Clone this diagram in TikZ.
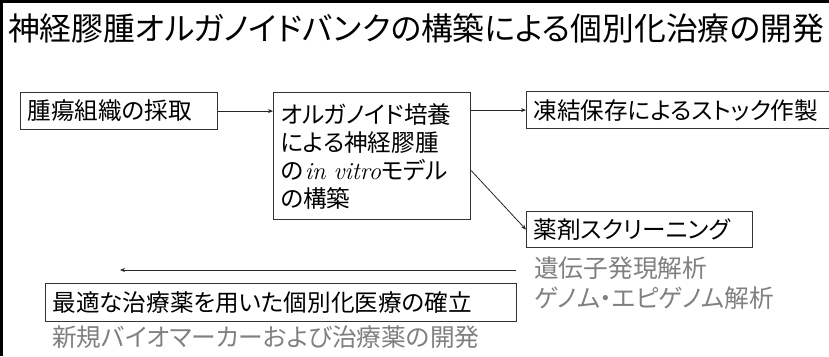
\documentclass[tikz,border=0pt]{standalone}
\usepackage{fontspec}
\newfontfamily\jp[RawFeature=+palt]{Noto Sans CJK JP}
\usetikzlibrary{arrows.meta}
\begin{document}
\begin{tikzpicture}[x=1pt,y=-1pt,
  box/.style={draw=black!80, line width=1.2pt, anchor=north west, inner xsep=7pt, inner ysep=0pt, align=left, font=\jp\fontsize{23.6}{28}\selectfont},
  note/.style={anchor=west, inner sep=0pt, text=black!50, font=\jp\fontsize{24.7}{28}\selectfont},
  arr/.style={-{Stealth[length=5pt,width=4pt]}, line width=0.8pt, draw=black!85}]
\useasboundingbox (0,0) rectangle (829,356);
\clip (0,0) rectangle (829,356);
\fill[white] (0,0) rectangle (829,356);
\draw[line width=3pt] (1.5,356) -- (1.5,1.5) -- (829,1.5);
\node[anchor=west, inner sep=0pt, font=\jp\fontsize{31.8}{32}\selectfont] (title) at (8,28) {神経膠腫オルガノイドバンクの構築による個別化治療の開発};
\node[box, text width=183pt, minimum height=37pt] (b1) at (20,92) {腫瘍組織の採取};
\node[box, text width=183pt, minimum height=127pt] (b2) at (273,92) {オルガノイド培養\\による神経膠腫\\の\hspace{1.5pt}{\rmfamily\itshape\fontsize{24.5}{28}\selectfont in vitro}モデル\\の構築};
\node[box, text width=330pt, minimum height=37pt] (b3) at (526,91) {凍結保存によるストック作製};
\node[box, text width=212pt, minimum height=36pt] (b4) at (526,211) {薬剤スクリーニング};
\node[box, text width=457pt, minimum height=38pt] (b5) at (45,283) {最適な治療薬を用いた個別化医療の確立};
\node[note] (n1) at (534,268) {遺伝子発現解析};
\node[note] (n2) at (534,298) {ゲノム・エピゲノム解析};
\node[note] (n3) at (52,337) {新規バイオマーカーおよび治療薬の開発};
\coordinate (fbs) at (516,270);
\coordinate (fbe) at (120,270);
\draw[arr] (b1.east) -- (b2.west |- b1.east);
\draw[arr] (b2.east |- b3.west) -- (b3.west);
\draw[arr] ([yshift=-14.5pt]b2.east) -- (b4.west);
\draw[arr] (fbs) -- (fbe);
\end{tikzpicture}
\end{document}
